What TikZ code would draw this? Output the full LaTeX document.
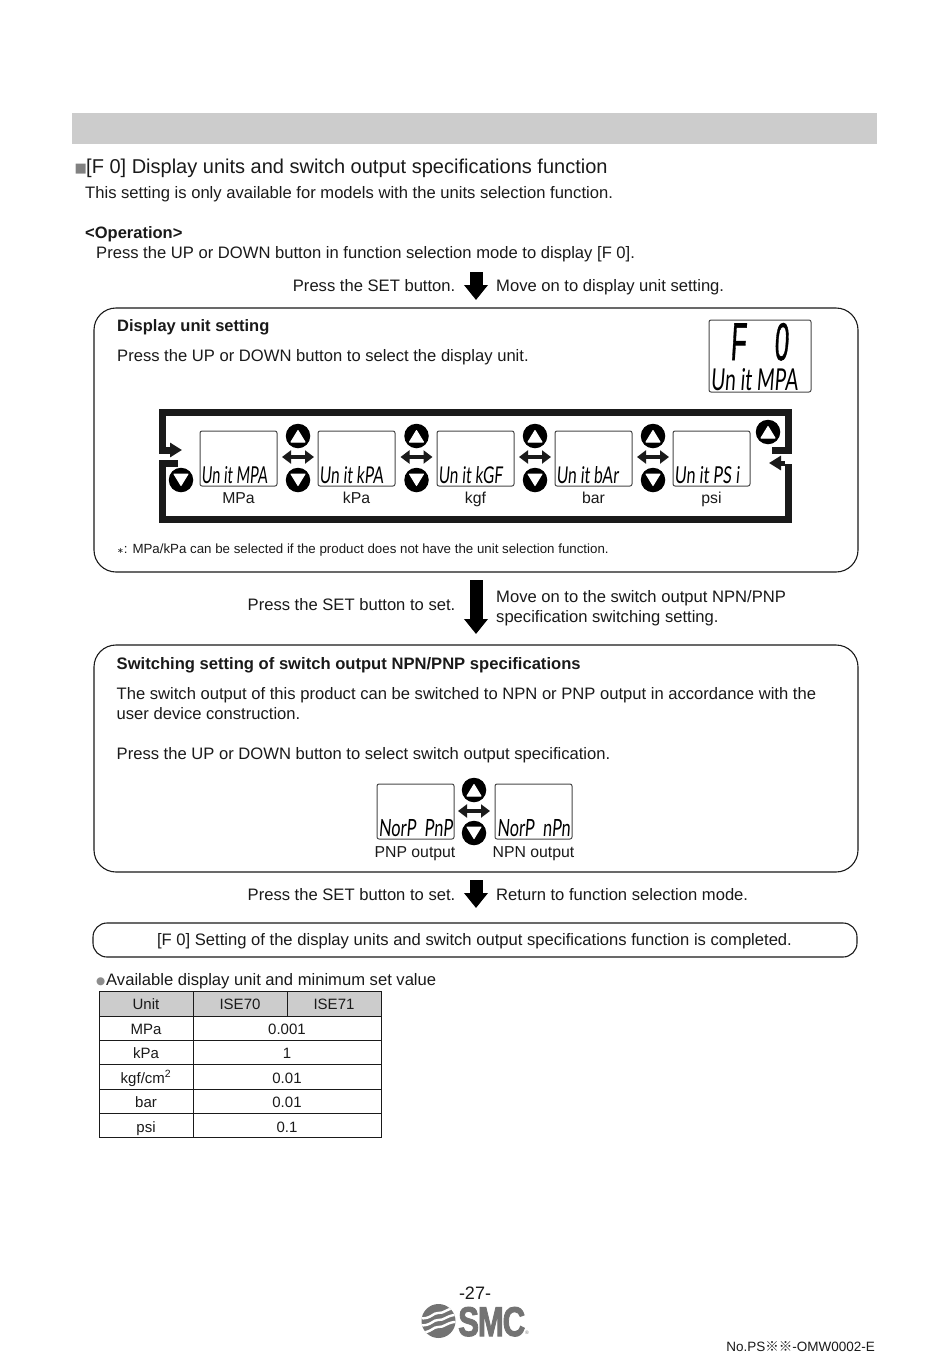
\documentclass[tikz,border=0pt]{standalone}
\usepackage{fontspec}
\usepackage{graphicx}
\setmainfont{Liberation Sans}
\newfontfamily\lcdfont[FakeSlant=0.12]{Lato}
\newfontfamily\bigfont[FakeSlant=0.12,FakeBold=1.2]{Liberation Sans}
\newfontfamily\logofont[FakeBold=2.5,LetterSpace=-4]{Liberation Sans Bold}
\newfontfamily\symfont{DejaVu Sans}
\newfontfamily\cjkfont{Noto Sans CJK JP}
\usetikzlibrary{arrows.meta,calc}
\definecolor{ink}{HTML}{1A1A1A}
\definecolor{band}{HTML}{CCCCCC}
\tikzset{
  x=1pt,y=-1pt,
  txt/.style={anchor=base west,inner sep=0,text=ink,font=\fontsize{16.6}{19}\selectfont},
  txtb/.style={txt,font=\bfseries\fontsize{16.5}{19}\selectfont},
  txtr/.style={txt,anchor=base east},
  ctr/.style={anchor=base,inner sep=0,text=ink,font=\fontsize{15}{18}\selectfont},
  lbl/.style={ctr,font=\fontsize{15.8}{18}\selectfont},
  panel/.style={draw=ink,line width=1.1pt,rounded corners=22pt,fill=white},
  lcdbox/.style={draw=ink!80,line width=1pt,rounded corners=2pt,fill=white},
  lcdtxt/.style={anchor=base west,inner sep=0,text=black},
  btn/.style={circle,fill=black,minimum size=24.5pt,inner sep=0},
  tri/.style={fill=white,draw=white,line width=1pt,line join=round},
  loopline/.style={draw=ink,line width=7pt,line join=miter},
  loopentry/.style={draw=ink,line width=5pt,-{Triangle[length=12pt,width=14pt]}},
  dbl/.style={draw=ink,line width=4.5pt,{Triangle[length=9pt,width=13pt]}-{Triangle[length=9pt,width=13pt]}},
  flow/.style={draw=black,line width=13pt,-{Triangle[length=15pt,width=23pt]}},
  cell/.style={draw=ink,line width=.9pt},
  cellh/.style={cell,fill=band},
}
\newcommand{\upbtn}[3]{\node[btn] (#1) at (#2,#3) {};
  \filldraw[tri] (#2,#3-5.5) -- (#2+7,#3+6) -- (#2-7,#3+6) -- cycle;}
\newcommand{\dnbtn}[3]{\node[btn] (#1) at (#2,#3) {};
  \filldraw[tri] (#2,#3+5.5) -- (#2+7,#3-6) -- (#2-7,#3-6) -- cycle;}
\newcommand{\lcd}[6]{% name, x, top, label width, text, label
  \draw[lcdbox] (#2,#3) rectangle ++(77,55);
  \node[lcdtxt] (#1) at (#2+1.2,#3+52) {\resizebox{#4pt}{17pt}{\lcdfont #5}};
  \node[lbl] (#1l) at (#2+38.5,#3+72.5) {#6};}
\begin{document}
\begin{tikzpicture}
\useasboundingbox (0,0) rectangle (950,1360);
\fill[white] (0,0) rectangle (950,1360);
\fill[band] (72,113) rectangle (877,144);
% heading
\node[inner sep=0,anchor=base west,text=ink!55] (sq) at (74.5,172.5) {\fontsize{13}{13}\selectfont\symfont ■};
\node[txt,font=\fontsize{20}{24}\selectfont] (h) at (86,173) {[F 0] Display units and switch output specifications function};
\node[txt] (t1) at (85,198) {This setting is only available for models with the units selection function.};
\node[txtb] (t2) at (85,238) {<Operation>};
\node[txt] (t3) at (96,258) {Press the UP or DOWN button in function selection mode to display [F 0].};
\node[txtr] (s1) at (455.5,291) {Press the SET button.};
\node[txt] (m1) at (496,291) {Move on to display unit setting.};
\coordinate (a1s) at (476,272); \coordinate (a1e) at (476,300);
\draw[flow] (a1s) -- (a1e);
% panel 1
\draw[panel] (94,308) rectangle (858,572);
\node[txtb] (p1t) at (117,331) {Display unit setting};
\node[txt] (p1b) at (117,361) {Press the UP or DOWN button to select the display unit.};
\draw[lcdbox] (709,320) rectangle (811,392);
\node[lcdtxt] (bigF) at (730,360) {\resizebox{58pt}{37pt}{\bigfont F\hspace{1.1em}0}};
\node[lcdtxt] (bigU) at (710.5,390) {\resizebox{87pt}{22pt}{\lcdfont Un it MPA}};
% loop
\coordinate (l1e) at (182,450);
\coordinate (l2s) at (178,463.5); \coordinate (l2e) at (769,463);
\draw[loopline] (172,450) -- (162.5,450) -- (162.5,412.5) -- (788,412.5) -- (788,450.5) -- (772,450.5);
\draw[loopentry] (166,450) -- (l1e);
\draw[loopline] (l2s) -- (162.5,463.5) -- (162.5,519.5) -- (788,519.5) -- (788,463.5);
\draw[loopentry] (785,463) -- (l2e);
\lcd{d1}{200}{431}{66}{Un it MPA}{MPa}
\lcd{d2}{318}{431}{64}{Un it kPA}{kPa}
\lcd{d3}{437}{431}{64}{Un it kGF}{kgf}
\lcd{d4}{555}{431}{62}{Un it bAr}{bar}
\lcd{d5}{673}{431}{65}{Un it PS i}{psi}
\foreach \n/\x in {a/298,b/416.5,c/535,d/653}{
  \upbtn{u\n}{\x}{436}
  \dnbtn{v\n}{\x}{480}
  \coordinate (al\n) at (\x-16,457); \coordinate (ar\n) at (\x+16,457);
  \draw[dbl] (al\n) -- (ar\n);
}
\dnbtn{dn0}{181}{480}
\upbtn{up0}{768}{432}
\node[txt,font=\fontsize{13.3}{16}\selectfont] (note) at (117,553) {{\symfont\fontsize{8}{8}\selectfont∗}: MPa/kPa can be selected if the product does not have the unit selection function.};
% step 2
\node[txtr] (s2) at (455.5,610) {Press the SET button to set.};
\node[txt] (m2a) at (496,602) {Move on to the switch output NPN/PNP};
\node[txt] (m2b) at (496,622) {specification switching setting.};
\coordinate (a2s) at (476,580); \coordinate (a2e) at (476,634);
\draw[flow] (a2s) -- (a2e);
% panel 2
\draw[panel] (94,645) rectangle (858,872);
\node[txtb,font=\bfseries\fontsize{16.6}{19}\selectfont] (p2t) at (116.5,669) {Switching setting of switch output NPN/PNP specifications};
\node[txt] (p2a) at (116.5,699) {The switch output of this product can be switched to NPN or PNP output in accordance with the};
\node[txt] (p2b) at (116.5,719) {user device construction.};
\node[txt] (p2c) at (116.5,759) {Press the UP or DOWN button to select switch output specification.};
\draw[lcdbox] (377,784) rectangle ++(77,55);
\node[lcdtxt] (n1) at (378.5,836) {\resizebox{74pt}{17pt}{\lcdfont NorP~~PnP}};
\node[lbl] (n1l) at (415,857) {PNP output};
\draw[lcdbox] (495,784) rectangle ++(77,55);
\node[lcdtxt] (n2) at (497,836) {\resizebox{73pt}{17pt}{\lcdfont NorP~~nPn}};
\node[lbl] (n2l) at (533.5,857) {NPN output};
\upbtn{ue}{474}{790}
\dnbtn{ve}{474}{833}
\coordinate (ale) at (458,811); \coordinate (are) at (490,811);
\draw[dbl] (ale) -- (are);
% step 3
\node[txtr] (s3) at (455.5,900) {Press the SET button to set.};
\node[txt] (m3) at (496,900) {Return to function selection mode.};
\coordinate (a3s) at (476,880); \coordinate (a3e) at (476,908);
\draw[flow] (a3s) -- (a3e);
\draw[panel,rounded corners=14pt] (93,923) rectangle (857,957);
\node[anchor=base,inner sep=0,text=ink,font=\fontsize{16.6}{19}\selectfont] (done) at (474.5,945) {[F 0] Setting of the display units and switch output specifications function is completed.};
% table
\node[inner sep=0,anchor=base west,text=ink!50] (bul) at (96,984) {\fontsize{10.5}{10}\selectfont\symfont ●};
\node[txt] (av) at (106,985) {Available display unit and minimum set value};
\draw[cellh] (99,991) rectangle (193,1016);
\draw[cellh] (193,991) rectangle (287,1016);
\draw[cellh] (287,991) rectangle (381,1016);
\foreach \a/\b in {1016/1040,1040/1064,1064/1089,1089/1113,1113/1137}{
  \draw[cell] (99,\a) rectangle (193,\b);
  \draw[cell] (193,\a) rectangle (381,\b);
}
\node[ctr] (th1) at (146,1009.5) {Unit};
\node[ctr] (th2) at (240,1009.5) {ISE70};
\node[ctr] (th3) at (334,1009.5) {ISE71};
\node[ctr] (r1a) at (146,1034) {MPa}; \node[ctr] (r1b) at (287,1034) {0.001};
\node[ctr] (r2a) at (146,1058.5) {kPa};   \node[ctr] (r2b) at (287,1058.5) {1};
\node[ctr] (r3a) at (146,1083) {kgf/cm\textsuperscript{2}}; \node[ctr] (r3b) at (287,1083) {0.01};
\node[ctr] (r4a) at (146,1107.5) {bar};   \node[ctr] (r4b) at (287,1107.5) {0.01};
\node[ctr] (r5a) at (146,1132) {psi}; \node[ctr] (r5b) at (287,1132) {0.1};
% footer
\node[anchor=base,inner sep=0,text=ink,font=\fontsize{18}{20}\selectfont] (pg) at (475,1299.5) {-27-};
\begin{scope}
\clip (438.5,1321) circle (17);
\fill[black!55] (421,1303) rectangle (456,1339);
\foreach \dy in {-8,-1,6}{
  \draw[white,line width=2.4pt] (420,1321+\dy+5) .. controls (430,1321+\dy+7) and (434,1321+\dy-1) .. (438,1321+\dy) .. controls (444,1321+\dy+1) and (448,1321+\dy-6) .. (458,1321+\dy-5);
}
\end{scope}
\node[lcdtxt,text=black!55] (smc) at (458,1336) {\resizebox{67pt}{29pt}{\logofont SMC}};
\node[inner sep=0,text=black!55,font=\fontsize{5}{5}\selectfont] (reg) at (527,1333) {®};
\node[anchor=base east,inner sep=0,text=ink,font=\fontsize{13.5}{16}\selectfont] (doc) at (875,1351) {No.PS{\cjkfont ※※}-OMW0002-E};
\end{tikzpicture}
\end{document}
